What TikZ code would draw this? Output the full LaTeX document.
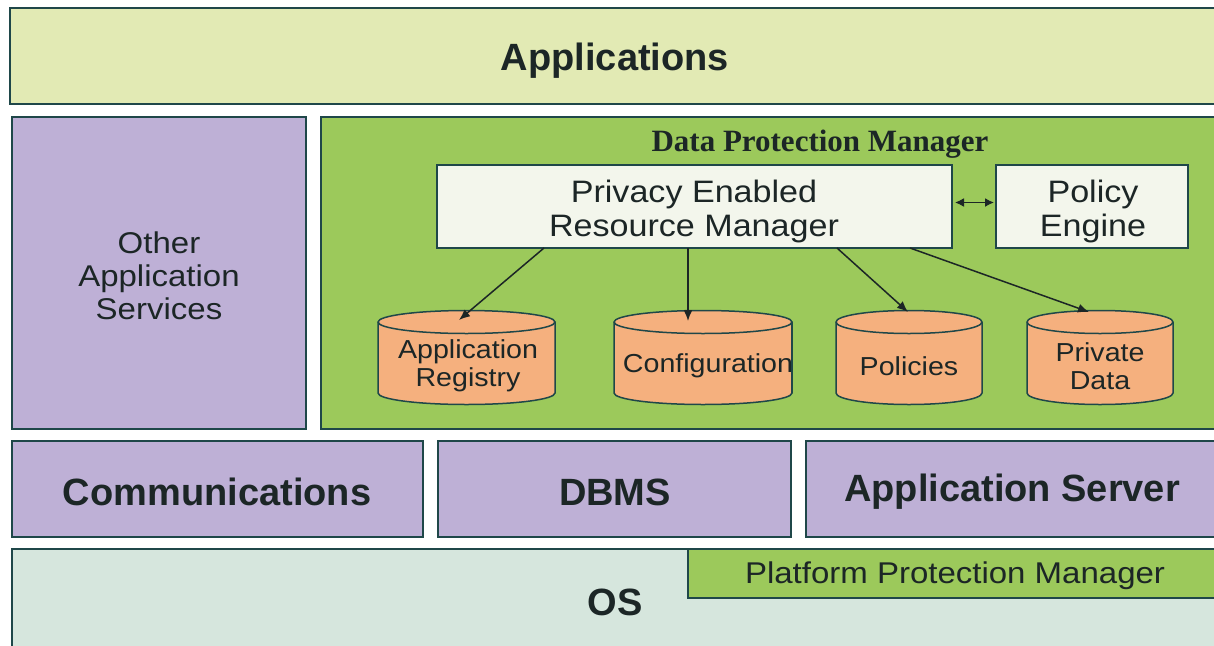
\documentclass[tikz,border=0pt]{standalone}
\usepackage{fontspec}
\setmainfont{Liberation Sans}
\newfontfamily\widesans{Liberation Sans}[FakeStretch=1.1]
\newfontfamily\titleserif{Liberation Serif}
\usetikzlibrary{arrows.meta}
\definecolor{bord}{HTML}{1F4749}
\definecolor{appfill}{HTML}{E2EAB4}
\definecolor{purp}{HTML}{BEB0D6}
\definecolor{grn}{HTML}{9CC95B}
\definecolor{permfill}{HTML}{F3F6EC}
\definecolor{cylfill}{HTML}{F5B07E}
\definecolor{osfill}{HTML}{D6E6DD}
\definecolor{txt}{HTML}{1C2626}
\newcommand\drum[6]{% x1, x2, rx, ytop, ybot, ry
  \filldraw[drumline, fill=cylfill] (#1,#4) -- (#1,#5)
    arc[start angle=180, end angle=360, x radius=#3pt, y radius=#6pt]
    -- (#2,#4)
    arc[start angle=0, end angle=180, x radius=#3pt, y radius=#6pt] -- cycle;
  \draw[drumline] (#1,#4) arc[start angle=180, end angle=360, x radius=#3pt, y radius=#6pt];}
\begin{document}
\begin{tikzpicture}[x=1pt,y=-1pt,
  layer/.style={draw=bord, line width=2pt, inner sep=0pt, outer sep=0pt, anchor=north west},
  drumline/.style={draw=bord, line width=1.5pt},
  bigtxt/.style={text=txt, inner sep=0pt, font=\fontsize{38}{44}\selectfont\bfseries},
  midtxt/.style={text=txt, inner sep=0pt, align=center, font=\widesans\fontsize{31}{34}\selectfont},
  cyltxt/.style={text=txt, inner sep=0pt, align=center, font=\widesans\fontsize{26}{28}\selectfont},
  conn/.style={draw=txt, line width=1.5pt, -{Latex[length=11pt,width=9pt]}},
]
\path[use as bounding box] (0,0) rectangle (1214,645);
\clip (0,0) rectangle (1214,645);

% layers
\node[layer, fill=appfill, minimum width=1220pt, minimum height=96pt] (apps) at (10,8) {};
\node[bigtxt] (appslbl) at (615,61) {Applications};

\node[layer, fill=purp, minimum width=294pt, minimum height=312pt] (oas) at (12,117) {};
\node[midtxt, font=\widesans\fontsize{30}{33}\selectfont] (oaslbl) at (159,276) {Other\\Application\\Services};

\node[layer, fill=grn, minimum width=910pt, minimum height=312pt] (dpm) at (321,117) {};
\node[text=txt, inner sep=0pt, font=\titleserif\bfseries\fontsize{31}{34}\selectfont] (dpmlbl) at (820,144) {Data Protection Manager};

\node[layer, fill=permfill, minimum width=515pt, minimum height=83pt] (perm) at (437,165) {};
\node[midtxt] (permlbl) at (694,211) {Privacy Enabled\\Resource Manager};
\node[layer, fill=permfill, minimum width=192pt, minimum height=83pt] (pe) at (996,165) {};
\node[midtxt] (pelbl) at (1093,211) {Policy\\Engine};

\node[layer, fill=purp, minimum width=411pt, minimum height=96pt] (comm) at (12,441) {};
\node[bigtxt] (commlbl) at (217,492) {Communications};
\node[layer, fill=purp, minimum width=353pt, minimum height=96pt] (dbms) at (438,441) {};
\node[bigtxt] (dbmslbl) at (615,492) {DBMS};
\node[layer, fill=purp, minimum width=420pt, minimum height=96pt] (as) at (806,441) {};
\node[bigtxt] (aslbl) at (1012,492) {Application Server};

\node[layer, fill=osfill, minimum width=1220pt, minimum height=110pt] (os) at (12,549) {};
\node[bigtxt] (oslbl) at (615,602) {OS};
\node[layer, fill=grn, minimum width=540pt, minimum height=49pt] (ppm) at (688,549) {};
\node[midtxt, font=\widesans\fontsize{30}{34}\selectfont] (ppmlbl) at (955,576) {Platform Protection Manager};

% data stores
\drum{378}{555}{88.5}{322}{393}{11.5}
\node[cyltxt] (reg) at (468,366) {Application\\Registry};
\coordinate (regtop) at (459,320);

\drum{614}{792}{89}{322}{393}{11.5}
\begin{scope}
  \clip (614,300) rectangle (791,410);
  \node[cyltxt] (conf) at (708,366) {Configuration};
\end{scope}
\draw[drumline] (792,322) -- (792,393);
\coordinate (conftop) at (688,321);

\drum{836}{982}{73}{322}{393}{11.5}
\node[cyltxt] (pol) at (909,366) {Policies};
\coordinate (poltop) at (908,312);

\drum{1027}{1173}{73}{322}{393}{11.5}
\node[cyltxt] (priv) at (1100,366) {Private\\Data};
\coordinate (privtop) at (1089,312);

% connectors
\draw[conn] ([xshift=107pt]perm.south west) -- (regtop);
\draw[conn] ([xshift=251pt]perm.south west) -- (conftop);
\draw[conn] ([xshift=400pt]perm.south west) -- (poltop);
\draw[conn] ([xshift=473pt]perm.south west) -- (privtop);
\draw[draw=txt, line width=1.5pt, {Latex[length=9pt,width=9pt]}-{Latex[length=9pt,width=9pt]}]
  ([xshift=3pt,yshift=4pt]perm.east) -- ([xshift=-2pt,yshift=4pt]pe.west);
\end{tikzpicture}
\end{document}
